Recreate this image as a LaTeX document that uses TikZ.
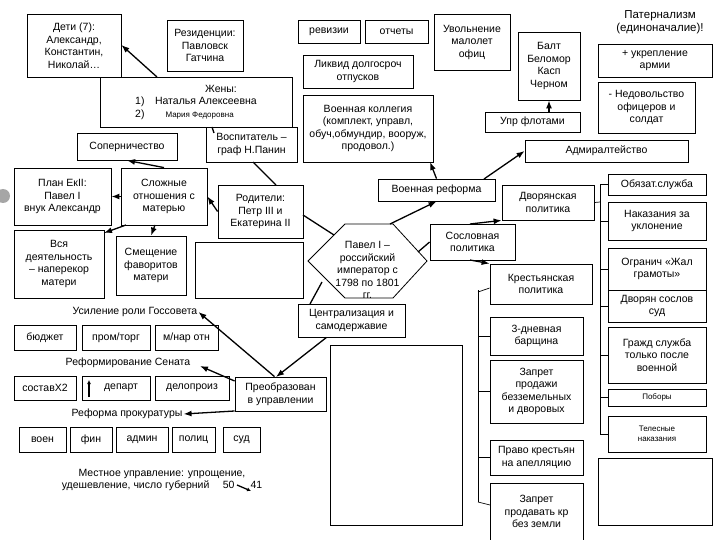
\documentclass[tikz,border=0pt]{standalone}
\usepackage{fontspec}
\setmainfont{Liberation Sans}
\usetikzlibrary{arrows.meta}
\begin{document}
\begin{tikzpicture}[x=1pt,y=-1pt,
  box/.style={draw,line width=0.8pt,align=center,inner sep=1pt,font=\fontsize{10.5}{12.5}\selectfont},
  sm/.style={font=\fontsize{8}{9.5}\selectfont},
  lbl/.style={align=center,inner sep=1pt,font=\fontsize{10.5}{12.5}\selectfont},
  ar/.style={line width=1.3pt,-{Latex[length=8pt,width=6pt]}},
  ln/.style={line width=1.3pt},
  br/.style={line width=0.7pt}]
\useasboundingbox (0,0) rectangle (720,540);
\newcommand\bx[6]{\node[box,minimum width={#4-#2},minimum height={#5-#3}] (#1) at ({(#2+#4)/2},{(#3+#5)/2}) {#6};}
\bx{deti}{27}{14}{121}{77}{Дети (7):\\Александр,\\Константин,\\Николай…}
\bx{rez}{167}{20}{243}{71}{Резиденции:\\Павловск\\Гатчина}
\node[box,minimum width=192,minimum height=50,align=left] (zheny) at (196,102) {\hspace*{70pt}Жены:\\1)\quad Наталья Алексеевна\\2)\qquad{\fontsize{8}{9.5}\selectfont Мария Федоровна}};
\bx{sop}{77}{133}{177}{160}{Соперничество}
\bx{vos}{206}{127}{297}{162}{Воспитатель –\\граф Н.Панин}
\bx{plan}{14}{168}{111}{225}{План ЕкII:\\Павел I\\внук Александр}
\fill[gray!70] (3,196) circle (7);
\bx{slozh}{121}{168}{207}{225}{Сложные\\отношения с\\матерью}
\bx{rod}{218}{185}{303}{238}{Родители:\\Петр III и\\Екатерина II}
\bx{vsya}{14}{230}{104}{298}{Вся\\деятельность\\– наперекор\\матери}
\bx{smesh}{116}{236}{186}{295}{Смещение\\фаворитов\\матери}
\bx{e1}{195}{242}{303}{298}{}
\bx{rev}{298}{20}{360}{43}{ревизии}
\bx{otch}{365}{20}{428}{43}{отчеты}
\bx{uvol}{434}{14}{510}{70}{Увольнение\\малолет\\офиц}
\bx{balt}{518}{32}{580}{100}{Балт\\Беломор\\Касп\\Черном}
\node[lbl,font=\fontsize{11.5}{13.5}\selectfont] (pat) at (660,22) {Патернализм\\(единоначалие)!};
\bx{ukr}{598}{44}{712}{77}{+ укрепление\\армии}
\bx{nedov}{598}{82}{695}{133}{- Недовольство\\офицеров и\\солдат}
\bx{likv}{303}{55}{413}{88}{Ликвид долгосроч\\отпусков}
\bx{kol}{303}{95}{433}{162}{Военная коллегия\\(комплект, управл,\\обуч,обмундир, вооруж,\\продовол.)}
\bx{upr}{485}{112}{580}{132}{Упр флотами}
\bx{adm}{525}{140}{688}{162}{Адмиралтейство}
\bx{vref}{378}{179}{495}{201}{Военная реформа}
\bx{dvor}{502}{185}{594}{220}{Дворянская\\политика}
\bx{sosl}{430}{224}{515}{260}{Сословная\\политика}
\bx{krest}{490}{264}{592}{304}{Крестьянская\\политика}
\bx{obyaz}{608}{174}{706}{195}{Обязат.служба}
\bx{nak}{608}{202}{706}{240}{Наказания за\\уклонение}
\bx{ogr}{608}{248}{706}{290}{Огранич «Жал\\грамоты»}
\bx{dsud}{608}{290}{706}{322}{Дворян сослов\\суд}
\bx{grazh}{608}{327}{706}{383}{Гражд служба\\только после\\военной}
\node[box,sm,minimum width=98,minimum height=17] (pob) at (657,397.5) {Поборы};
\node[box,sm,minimum width=98,minimum height=36] (tel) at (657,434) {Телесные\\наказания};
\bx{e3}{598}{458}{712}{525}{}
\bx{tri}{490}{317}{583}{355}{3-дневная\\барщина}
\bx{zapr}{490}{360}{583}{423}{Запрет\\продажи\\безземельных\\и дворовых}
\bx{pravo}{490}{440}{583}{475}{Право крестьян\\на апелляцию}
\bx{zapr2}{490}{483}{583}{540}{Запрет\\продавать кр\\без земли}
\bx{e2}{330}{345}{462}{525}{}
\draw[line width=0.8pt,fill=white] (308,261) -- (345,224) -- (393,224) -- (427,261) -- (393,298) -- (345,298) -- cycle;
\node[lbl] (pav) at (367.5,270) {Павел I –\\российский\\император с\\1798 по 1801\\гг.};
\bx{centr}{298}{304}{405}{337}{Централизация и\\самодержавие}
\bx{preob}{235}{377}{326}{411}{Преобразован\\в управлении}
\node[lbl] (usil) at (135,312) {Усиление роли Госсовета};
\bx{budg}{14}{325}{76}{350}{бюджет}
\bx{prom}{82}{325}{150}{350}{пром/торг}
\bx{mnar}{155}{325}{218}{350}{м/нар отн}
\node[lbl] (sen) at (128,363) {Реформирование Сената};
\bx{sost}{14}{376}{76}{400}{составX2}
\bx{dep}{82}{376}{150}{400}{\hspace{10pt}департ}
\draw[ln,-{Latex[length=4pt,width=4pt]}] (89,397) -- (89,380);
\bx{delo}{155}{376}{229}{400}{делопроиз}
\node[lbl] (prok) at (127,414) {Реформа прокуратуры};
\bx{voen}{19}{427}{66}{452}{воен}
\bx{fin}{70}{427}{112}{452}{фин}
\bx{admin}{116}{427}{168}{452}{админ}
\bx{pol}{172}{427}{215}{452}{полиц}
\bx{sud}{223}{427}{260}{452}{суд}
\node[lbl] (mest) at (162,480) {Местное управление: упрощение,\\удешевление, число губерний \quad 50\hspace{16pt}41};
\coordinate (m1) at (237,485); \coordinate (m2) at (251,491);
\draw[ln,-{Latex[length=4pt,width=4pt]}] (m1) -- (m2);
% connectors
\draw[ar] (157,77) -- (deti.east |- 0,45);
\draw[ln] (212,127) -- (214,133);
\draw[ar] (slozh.north) -- (sop.south);
\draw[ar] (slozh.west) -- (plan.east);
\draw[ar] (126,225) -- (104,233);
\draw[ar] (155,225) -- (smesh.north);
\draw[ar] (rod.west) -- (slozh.east);
\draw[ln] (253,162) -- (276,185);
\draw[ln] (303,215) -- (334,235);
\draw[ar] (390,224) -- (vref.south);
\draw[ar] (vref.north) -- (430,162);
\draw[ar] (484,179) -- (adm.west);
\draw[ar] (upr.north -| balt) -- (balt.south);
\draw[ln] (418,252) -- (sosl.west);
\draw[ar] (470,224) -- (dvor.south west);
\draw[ar] (470,260) -- (krest.north west);
\draw[ln] (322,282) -- (310,304);
\draw[ar] (centr.south) ++(-25,0) -- (276,377);
\draw[ar] (preob.north) ++(-6,0) -- (usil.east);
\draw[ar] (preob.west |- 0,381) -- (200,366);
\draw[ar] (preob.west |- 0,411) -- (prok.east);
% brackets
\draw[br] (dvor.east) -- (600,202);
\draw[br] (600,185) -- (600,435);
\foreach \n in {obyaz,nak,ogr,dsud,grazh,pob,tel} \draw[br] (600,0 |- \n.west) -- (\n.west);
\draw[br] (478,290) -- (478,502);
\draw[br] (478,292) -- (krest.west |- 0,288);
\foreach \n in {tri,zapr,pravo} \draw[br] (478,0 |- \n.west) -- (\n.west);
\draw[br] (478,502) -- (490,505);
\end{tikzpicture}
\end{document}
